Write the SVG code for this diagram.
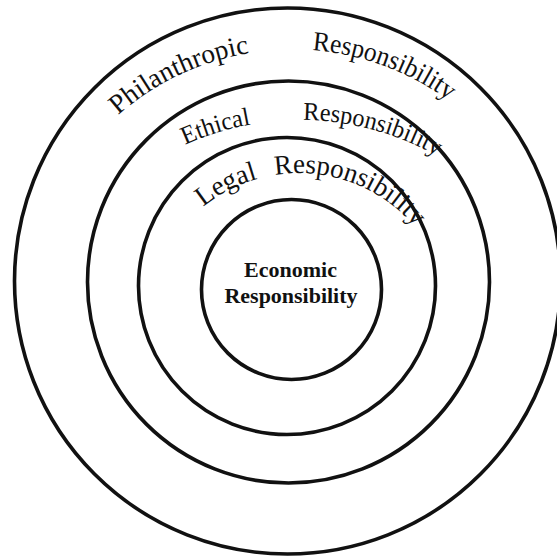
<svg xmlns="http://www.w3.org/2000/svg" width="557" height="558" viewBox="0 0 557 558">
<style>
.ring{fill:none;stroke:#111;stroke-width:3.6}
.lbl{font-family:"Liberation Serif","Times New Roman",serif;fill:#111}
.cen{font-family:"Liberation Serif","Times New Roman",serif;font-weight:bold;fill:#111;font-size:20.5px;text-anchor:middle}
</style>
<defs>
<path id="arc1" d="M 90.2 143.7 A 264 264 0 0 1 494.6 143.7"/>
<path id="arc2" d="M 140.9 170.2 A 277.8 277.8 0 0 1 478.8 185.0"/>
<path id="arc3" d="M 182.1 227.5 A 152.4 152.4 0 0 1 430.8 249.3"/>
</defs>
<rect width="557" height="558" fill="#fff"/>
<g id="philanthropic">
<circle class="ring" cx="287.5" cy="281" r="273"/>
<text class="lbl" font-size="27.5"><textPath href="#arc1" startOffset="40" textLength="147" lengthAdjust="spacingAndGlyphs">Philanthropic</textPath></text>
<text class="lbl" font-size="27.5"><textPath href="#arc1" startOffset="250" textLength="147" lengthAdjust="spacingAndGlyphs">Responsibility</textPath></text>
</g>
<g id="ethical">
<circle class="ring" cx="288.5" cy="282" r="201"/>
<text class="lbl" font-size="25.5"><textPath href="#arc2" startOffset="51" textLength="69" lengthAdjust="spacingAndGlyphs">Ethical</textPath></text>
<text class="lbl" font-size="25.5"><textPath href="#arc2" startOffset="172.5" textLength="140" lengthAdjust="spacingAndGlyphs">Responsibility</textPath></text>
</g>
<g id="legal">
<circle class="ring" cx="287" cy="286" r="148.5"/>
<text class="lbl" font-size="27.5"><textPath href="#arc3" startOffset="29.5" textLength="61.7" lengthAdjust="spacingAndGlyphs">Legal</textPath></text>
<text class="lbl" font-size="27.5"><textPath href="#arc3" startOffset="109" textLength="156" lengthAdjust="spacingAndGlyphs">Responsibility</textPath></text>
</g>
<g id="economic">
<circle class="ring" cx="291.5" cy="289.5" r="90"/>
<text class="cen" x="290.5" y="277" textLength="93" lengthAdjust="spacingAndGlyphs">Economic</text>
<text class="cen" x="291" y="303" textLength="133" lengthAdjust="spacingAndGlyphs">Responsibility</text>
</g>
<g id="connectors"/>
</svg>
